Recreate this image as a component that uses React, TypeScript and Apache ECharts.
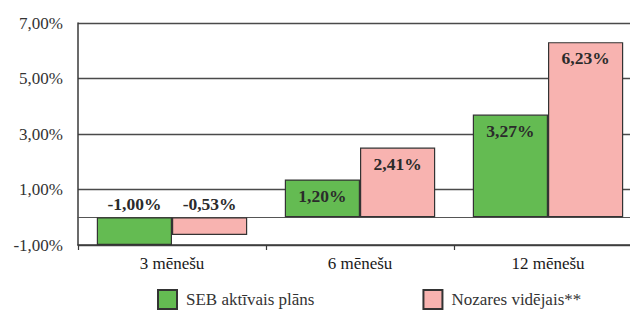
import React, { useEffect, useRef } from "react";
import * as echarts from "echarts";

const categories = ["3 mēnešu", "6 mēnešu", "12 mēnešu"];
// bar heights as drawn in the reference picture
const sebValues = [-1.0, 1.36, 3.7];
const industryValues = [-0.64, 2.51, 6.31];
// value labels as printed in the reference picture
const sebLabels = ["-1,00%", "1,20%", "3,27%"];
const industryLabels = ["-0,53%", "2,41%", "6,23%"];
const seriesNames = ["SEB aktīvais plāns", "Nozares vidējais**"];
const yMin = -1;
const yMax = 7;
const yStep = 2;

const FONT = "'Liberation Serif', 'Times New Roman', serif";

const fmt = (v: number) => v.toFixed(2).replace(".", ",") + "%";

export default function App() {
  const ref = useRef<HTMLDivElement>(null);
  useEffect(() => {
    if (!ref.current) return;
    const chart = echarts.init(ref.current, undefined, { renderer: "svg" });
    const mkLabel = (texts: string[]) => ({
      show: true,
      position: "insideTop" as const,
      distance: 7,
      fontFamily: FONT,
      fontSize: 17.5,
      fontWeight: "bold" as const,
      color: "#2b2b2b",
      formatter: (p: any) => texts[p.dataIndex],
    });
    const mkData = (arr: number[]) =>
      arr.map((v) =>
        v < 0 ? { value: v, label: { position: "top" as const, distance: 4 } } : { value: v }
      );
    chart.setOption({
      animation: false,
      grid: { left: 78, top: 23, bottom: 65, right: 8, containLabel: false },
      legend: {
        left: 152,
        top: 284,
        padding: 5,
        icon: "rect",
        itemWidth: 19,
        itemHeight: 19,
        itemGap: 108,
        textStyle: {
          fontFamily: FONT,
          fontSize: 17,
          lineHeight: 18,
          color: "#333",
          padding: [0, 0, 0, 4],
        },
        data: seriesNames,
      },
      xAxis: [
        {
          type: "category",
          data: categories,
          axisLine: { onZero: false, lineStyle: { color: "#3a3a3a", width: 1.5 } },
          axisTick: { show: true, length: 5, lineStyle: { color: "#3a3a3a", width: 1.2 } },
          axisLabel: { fontFamily: FONT, fontSize: 17, color: "#1a1a1a", margin: 10 },
        },
        {
          type: "category",
          data: categories,
          position: "bottom",
          axisLine: { show: true, onZero: true, lineStyle: { color: "#555", width: 1.2 } },
          axisTick: { show: false },
          axisLabel: { show: false },
        },
      ],
      yAxis: {
        type: "value",
        min: yMin,
        max: yMax,
        interval: yStep,
        axisLine: { show: true, lineStyle: { color: "#3a3a3a", width: 1.5 } },
        axisTick: { show: false },
        splitLine: { show: true, lineStyle: { color: "#4a4a4a", width: 1.3 } },
        axisLabel: {
          fontFamily: FONT,
          fontSize: 17,
          color: "#333",
          margin: 15,
          formatter: (v: number) => fmt(v),
        },
      },
      series: [
        {
          name: seriesNames[0],
          type: "bar",
          data: mkData(sebValues),
          barGap: "0%",
          barCategoryGap: "20%",
          itemStyle: { color: "#64bb52", borderColor: "#333", borderWidth: 1.2 },
          label: mkLabel(sebLabels),
        },
        {
          name: seriesNames[1],
          type: "bar",
          data: mkData(industryValues),
          barGap: "0%",
          barCategoryGap: "20%",
          itemStyle: { color: "#f8b3b0", borderColor: "#333", borderWidth: 1.2 },
          label: mkLabel(industryLabels),
        },
      ],
    });
    return () => chart.dispose();
  }, []);
  return (
    <div
      style={{
        position: "fixed",
        left: 0,
        top: 0,
        width: 630,
        height: 310,
        overflow: "hidden",
        background: "#fff",
      }}
    >
      <div ref={ref} style={{ width: 650, height: 310 }} />
    </div>
  );
}
